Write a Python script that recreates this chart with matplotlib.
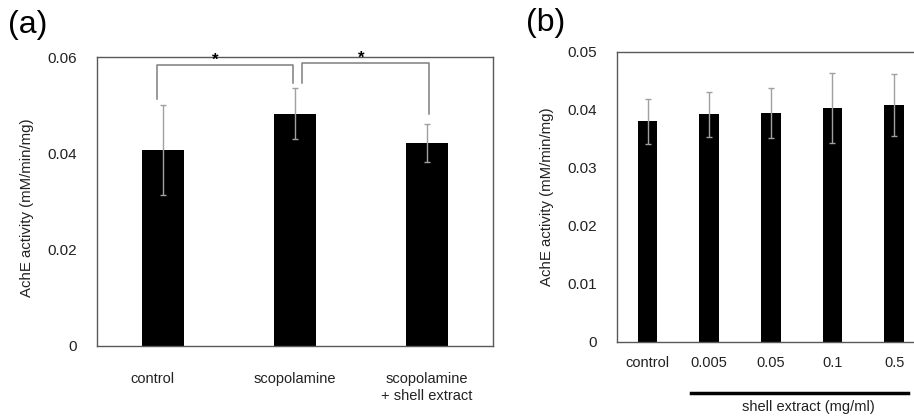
import matplotlib.pyplot as plt
import matplotlib.transforms as mtransforms

plt.rcParams['font.family'] = ['Liberation Sans', 'DejaVu Sans']

# (a) scopolamine model
grupos_a = ['control', 'scopolamine', 'scopolamine\n+ shell extract']
media_a = [0.0407, 0.0482, 0.0421]
error_a = [0.0093, 0.0053, 0.0040]
yticks_a = [0, 0.02, 0.04, 0.06]

# (b) shell extract doses
grupos_b = ['control', '0.005', '0.05', '0.1', '0.5']
media_b = [0.0380, 0.0392, 0.0395, 0.0403, 0.0408]
error_b = [0.0039, 0.0039, 0.0043, 0.0060, 0.0054]
yticks_b = [0, 0.01, 0.02, 0.03, 0.04, 0.05]

gris_eje = '#595959'
gris_err = '#a0a0a0'

fig = plt.figure(figsize=(9.14, 4.17), dpi=100)
ax1 = fig.add_axes([0.1058, 0.1703, 0.4336, 0.693])
ax2 = fig.add_axes([0.6747, 0.1806, 0.3373, 0.6954])

for ax, grupos, media, error, yt in [(ax1, grupos_a, media_a, error_a, yticks_a),
                                     (ax2, grupos_b, media_b, error_b, yticks_b)]:
    x = range(len(grupos))
    ax.bar(x, media, width=0.32, color='black', zorder=2)
    ax.errorbar(x, media, yerr=error, fmt='none', ecolor=gris_err,
                elinewidth=1.0, capsize=2.5, capthick=1.0, zorder=3)
    ax.set_xlim(-0.5, len(grupos) - 0.5)
    ax.set_ylim(0, yt[-1])
    ax.set_yticks(yt)
    ax.set_yticklabels(['0' if v == 0 else f'{v:g}' for v in yt])
    ax.set_xticks(list(x))
    ax.set_xticklabels(grupos, fontsize=10.5, color='#222222')
    ax.tick_params(length=0)
    ax.tick_params(axis='y', labelsize=11, pad=14, labelcolor='#222222')
    for s in ax.spines.values():
        s.set_color(gris_eje)
        s.set_linewidth(1.0)
    ax.set_ylabel('AchE activity (mM/min/mg)', fontsize=10.8, color='#222222')

ax1.tick_params(axis='x', pad=19)
ax2.tick_params(axis='x', pad=10)
ax1.yaxis.set_label_coords(-0.157, 0.48)
ax2.yaxis.set_label_coords(-0.204, 0.5)

# etiqueta control un poco a la izquierda
lab = ax1.get_xticklabels()[0]
lab.set_transform(lab.get_transform() +
                  mtransforms.ScaledTranslation(-0.10, 0, fig.dpi_scale_trans))

# corchetes de significancia
ax1.plot([-0.045, -0.045, 0.985, 0.985], [0.0513, 0.0584, 0.0584, 0.0546],
         color='#7f7f7f', lw=1.1, zorder=3)
ax1.plot([1.053, 1.053, 2.015, 2.015], [0.0546, 0.0588, 0.0588, 0.0482],
         color='#7f7f7f', lw=1.1, zorder=3)
ax1.text(0.40, 0.0578, '*', ha='center', va='bottom', fontsize=12, fontweight='bold')
ax1.text(1.50, 0.0582, '*', ha='center', va='bottom', fontsize=12, fontweight='bold')

# linea de extracto
trans = mtransforms.blended_transform_factory(ax2.transData, ax2.transAxes)
ax2.plot([0.71, 4.23], [-0.176, -0.176], color='black', lw=2.5,
         transform=trans, clip_on=False)
ax2.text(2.61, -0.225, 'shell extract (mg/ml)', transform=trans,
         ha='center', va='center', fontsize=10.5, color='#222222')

fig.text(0.009, 0.94, '(a)', fontsize=23, va='center')
fig.text(0.575, 0.945, '(b)', fontsize=23, va='center')

fig.savefig('out.png', dpi=100)
